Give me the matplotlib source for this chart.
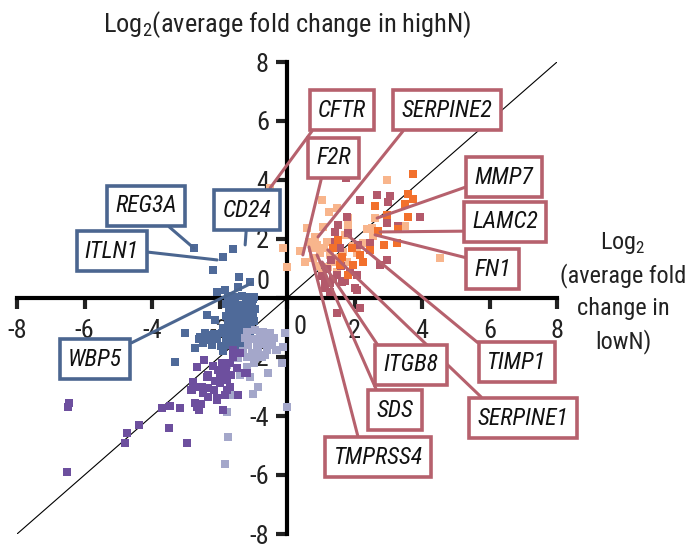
import matplotlib
matplotlib.use("Agg")
import matplotlib.pyplot as plt
from matplotlib import font_manager
from matplotlib.transforms import ScaledTranslation

# pick a narrow sans if one is installed
names = {f.name for f in font_manager.fontManager.ttflist}
narrow = [n for n in ['Liberation Sans Narrow', 'Roboto Condensed', 'DejaVu Sans Condensed',
                      'Open Sans Condensed', 'Roboto'] if n in names]
main_font = narrow[0] if narrow else 'DejaVu Sans'
plt.rcParams['font.family'] = [main_font, 'DejaVu Sans']
plt.rcParams['mathtext.fontset'] = 'custom'
plt.rcParams['mathtext.rm'] = main_font

# log2 fold change: x = lowN, y = highN
blue_x = [-2.76, -1.6, -1.9, -2.19, -1.42, -1.1, -2.07, -1.84, -1.45, -1.0, -2.37, -3.02, -3.32, -2.73,
          -2.58, -2.38, -2.13, -1.74, -1.68, -1.21, -0.98,
          -1.75, -1.55, -1.33, -1.15, -1.02, -1.82, -1.6, -1.38, -1.22, -1.05,
          -1.73, -1.5, -1.28, -1.12, -0.96, -1.8, -1.62, -1.4, -1.18, -1.0,
          -1.76, -1.53, -1.32, -1.14, -0.97, -1.9, -1.66, -1.44, -1.26, -1.06,
          -2.42, -2.16, -1.92, -1.7, -1.48, -1.3, -1.1,
          -2.62, -2.3, -2.06, -1.82, -1.6, -1.4, -1.2,
          -2.22, -1.96, -1.72, -1.5, -1.35, -1.9, -1.55, -2.5]
blue_y = [1.69, 1.66, 1.39, 0.95, 0.71, 0.54, 0.2, 0.27, 0.37, 0.03, -0.58, -1.19, -2.17, -1.71,
          -1.31, -1.25, -0.75, 0.0, -0.29, -0.01, 0.04,
          0.06, 0.02, 0.08, 0.03, -0.05, -0.22, -0.18, -0.24, -0.16, -0.21,
          -0.4, -0.43, -0.37, -0.45, -0.38, -0.6, -0.57, -0.63, -0.58, -0.62,
          -0.8, -0.83, -0.77, -0.82, -0.79, -1.02, -0.98, -1.04, -0.99, -1.03,
          -1.2, -1.23, -1.18, -1.22, -1.19, -1.24, -1.2,
          -1.4, -1.43, -1.38, -1.41, -1.44, -1.39, -1.42,
          -1.6, -1.63, -1.58, -1.62, -1.55, -1.8, -1.75, -1.52]

lav_x = [-0.01, -0.11, -0.15, -0.55, -0.34, -0.85, -1.0, -1.61, -1.79, -1.74, -1.84, -1.1, -1.39,
         -1.19, -0.99, -0.3, -0.65, -1.79, -0.06,
         -1.2, -0.95, -0.7, -0.5, -1.25, -1.05, -0.8, -0.6, -0.4, -1.15, -0.9, -0.7, -0.5,
         -1.3, -1.05, -0.85, -0.6, -1.2, -0.95, -0.75, -1.45, -0.45]
lav_y = [-3.7, -1.65, -2.2, -2.55, -1.76, -3.0, -3.25, -3.29, -3.87, -4.7, -5.62, -2.69, -2.61,
         -2.33, -2.21, -1.75, -1.93, -2.27, -1.19,
         -1.15, -1.1, -1.15, -1.2, -1.35, -1.4, -1.35, -1.4, -1.35, -1.6, -1.6, -1.55, -1.6,
         -1.8, -1.85, -1.8, -1.75, -2.0, -2.05, -2.0, -2.05, -1.5]

purple_x = [-6.45, -6.5, -6.53, -4.8, -4.75, -4.38, -3.69, -3.47, -3.17, -3.49, -2.97, -2.79, -2.68,
            -2.46, -2.84, -2.53, -2.68, -2.6, -2.55, -2.72, -2.33, -2.17, -2.08, -1.99, -1.89,
            -1.79, -1.69, -1.59, -1.89, -2.04, -2.14, -1.78, -1.49, -1.39, -1.19, -1.59, -2.38,
            -2.58, -1.94, -2.08, -1.44, -1.69, -1.24, -2.33, -2.33, -2.48, -3.71, -2.82, -1.8,
            -1.65, -2.2, -1.85, -2.0]
purple_y = [-3.55, -3.68, -5.89, -4.9, -4.59, -4.3, -3.74, -3.66, -3.74, -4.4, -4.9, -2.84, -2.33,
            -2.1, -3.12, -3.0, -3.68, -3.78, -3.6, -3.55, -3.35, -3.12, -3.46, -2.89, -2.55,
            -2.77, -2.21, -1.99, -3.8, -2.44, -2.83, -3.12, -2.38, -1.87, -2.55, -1.76, -2.67,
            -3.0, -2.21, -3.4, -3.29, -3.0, -2.55, -2.61, -3.06, -3.23, -3.74, -3.12, -2.4,
            -2.6, -2.3, -3.3, -2.65]

peach_x = [-0.5, 2.95, 1.03, 1.25, 1.49, 1.82, 1.8, 2.36, 2.61, 2.53, 3.5, 2.56, 4.53, 0.58, 1.08,
           0.83, 0.39, 0.53, -0.13, 0.01, 0.88, 1.18, 1.27, 0.98, 0.78, 1.42, 1.67, 1.77, 2.06,
           2.26, 1.22, 1.03, 1.48, 0.73, 0.64, 1.72, 1.1, 1.35, 1.55, 0.9, 1.95]
peach_y = [3.73, 4.0, 3.32, 2.93, 3.04, 2.72, 2.47, 2.34, 2.71, 2.36, 2.45, 2.11, 1.37, 2.36, 2.42,
           2.08, 1.59, 1.23, 1.68, 1.06, 1.8, 1.91, 1.46, 1.51, 1.34, 1.23, 1.57, 1.23, 1.51,
           1.85, 1.06, 0.84, 0.87, 1.68, 1.91, 2.14, 1.7, 1.75, 1.35, 1.1, 1.75]

rose_x = [1.75, 2.16, 2.66, 3.05, 3.0, 3.94, 2.96, 3.3, 1.78, 1.52, 1.42, 1.82, 2.46, 2.11, 2.76,
          2.96, 2.06, 2.01, 1.63, 1.37, 1.13, 1.13, 1.27, 1.48, 1.19, 2.16, 1.56, 1.42, 1.86,
          1.72, 1.27, 2.06, 1.47, 1.3, 1.6, 1.05]
rose_y = [4.06, 3.32, 3.49, 3.46, 3.27, 2.76, 2.53, 2.43, 2.76, 2.47, 2.25, 2.19, 1.85, 1.8, 1.12,
          1.29, 0.78, 0.33, 0.55, 0.66, 0.55, 0.33, 0.5, 0.78, 1.0, -0.35, 1.68, 1.91, 0.87,
          0.59, 0.21, 0.27, -0.52, 1.3, 1.1, 0.75]

orange_x = [3.72, 3.59, 3.72, 3.5, 2.61, 3.58, 2.97, 2.69, 3.3, 3.27, 2.88, 2.46, 2.26, 2.16, 1.92,
            1.95, 1.82, 1.57, 1.63, 1.37, 1.52]
orange_y = [4.2, 3.53, 3.36, 3.18, 3.13, 2.76, 2.81, 2.28, 2.34, 1.85, 1.8, 1.63, 1.21, 1.46, 1.68,
            1.12, 0.78, 1.12, 1.4, 1.68, 1.97]

# gene labels: (name, label position, point, relpos of line on box)
red_genes = ['CFTR', 'SERPINE2', 'F2R', 'MMP7', 'LAMC2', 'FN1', 'TMPRSS4', 'SDS', 'SERPINE1',
             'ITGB8', 'TIMP1']
red_label_xy = [(1.63, 6.37), (4.74, 6.37), (1.39, 4.75), (6.43, 4.1), (6.46, 2.58), (6.1, 0.98),
                (2.7, -5.39), (3.2, -3.8), (6.99, -4.07), (3.67, -2.27), (6.81, -2.17)]
red_point_xy = [(-0.5, 3.73), (0.92, 2.07), (0.47, 1.46), (2.67, 2.71), (2.76, 2.24), (2.61, 2.14),
                (0.65, 1.73), (0.89, 1.46), (1.21, 1.63), (1.04, 1.22), (1.78, 2.14)]
red_relpos = [(0.02, 0), (0.1, 0), (0.2, 0), (0, 0.2), (0, 0.1), (0, 0.9),
              (0.3, 1), (0.1, 1), (0.15, 1), (0, 1), (0, 1)]

blue_genes = ['REG3A', 'CD24', 'ITLN1', 'WBP5']
blue_label_xy = [(-4.18, 3.12), (-1.19, 2.98), (-5.19, 1.59), (-5.69, -2.07)]
blue_point_xy = [(-2.76, 1.69), (-1.24, 1.8), (-2.07, 1.29), (-1.04, 0.51)]
blue_relpos = [(0.7, 0), (0.5, 0), (1, 0.5), (1, 1)]

ticks = [-8, -6, -4, -2, 0, 2, 4, 6, 8]
tick_labels = ['-8', '-6', '-4', '-2', '', '2', '4', '6', '8']

x_title_lines = ['Log$_2$', '(average fold', 'change in', 'lowN)']

narrow_ok = main_font != 'DejaVu Sans' and main_font != 'Roboto'
fs_tick = 19 if narrow_ok else 16
fs_lab = 17 if narrow_ok else 14
fs_title = 19 if narrow_ok else 15
fs_side = 17.5 if narrow_ok else 14

fig = plt.figure(figsize=(6.99, 5.54), dpi=100)
ax = fig.add_axes([17 / 699, 20 / 554, 540 / 699, 472 / 554])
ax.set_xlim(-8, 8)
ax.set_ylim(-8, 8)
for side in ['left', 'bottom']:
    ax.spines[side].set_position('zero')
    ax.spines[side].set_linewidth(3)
for side in ['top', 'right']:
    ax.spines[side].set_visible(False)
ax.set_xticks(ticks)
ax.set_xticklabels(tick_labels)
ax.set_yticks(ticks)
ax.set_yticklabels(tick_labels)
ax.tick_params(direction='out', length=8, width=3, labelsize=fs_tick, colors='#222222')
ax.tick_params(axis='x', pad=7)
ax.tick_params(axis='y', pad=5)

# zero labels sit off the crossing
off = fig.dpi_scale_trans
ax.text(0, 0, '0', fontsize=fs_tick, color='#222222', ha='center', va='center',
        transform=ax.transData + ScaledTranslation(0.13, -0.29, off))
ax.text(0, 0, '0', fontsize=fs_tick, color='#222222', ha='center', va='center',
        transform=ax.transData + ScaledTranslation(-0.24, 0.16, off))

ax.plot([-8, 8], [-8, 8], color='black', lw=0.8, zorder=2)

ms = 26
ax.scatter(blue_x, blue_y, s=ms, marker='s', color='#4f6a99', lw=0, zorder=3)
ax.scatter(lav_x, lav_y, s=ms, marker='s', color='#a4a7ca', lw=0, zorder=3)
ax.scatter(purple_x, purple_y, s=ms, marker='s', color='#6d4f9e', lw=0, zorder=3)
ax.scatter(peach_x, peach_y, s=ms, marker='s', color='#f8b58c', lw=0, zorder=3)
ax.scatter(rose_x, rose_y, s=ms, marker='s', color='#b3596b', lw=0, zorder=3)
ax.scatter(orange_x, orange_y, s=ms, marker='s', color='#f2702c', lw=0, zorder=3)


def label(name, txy, pxy, rel, col):
    ax.annotate(name, xy=pxy, xytext=txy, fontsize=fs_lab, style='italic', color='#111111',
                ha='center', va='center', zorder=5,
                bbox=dict(boxstyle='square,pad=0.35', fc='white', ec=col, lw=2.6),
                arrowprops=dict(arrowstyle='-', color=col, lw=2.2, relpos=rel,
                                shrinkA=0, shrinkB=0))


for g, t, p, r in zip(red_genes, red_label_xy, red_point_xy, red_relpos):
    label(g, t, p, r, '#b6616d')
for g, t, p, r in zip(blue_genes, blue_label_xy, blue_point_xy, blue_relpos):
    label(g, t, p, r, '#4b6690')

fig.text(287 / 699, 1 - 25 / 554, 'Log$_2$(average fold change in highN)', fontsize=fs_title,
         color='#222222', ha='center', va='center')
# x-axis title at the right, one text per line
for i, line in enumerate(x_title_lines):
    fig.text(623 / 699, 1 - (243 + 33 * i) / 554, line, fontsize=fs_side,
             color='#222222', ha='center', va='center')

fig.savefig('out.png', dpi=100)
